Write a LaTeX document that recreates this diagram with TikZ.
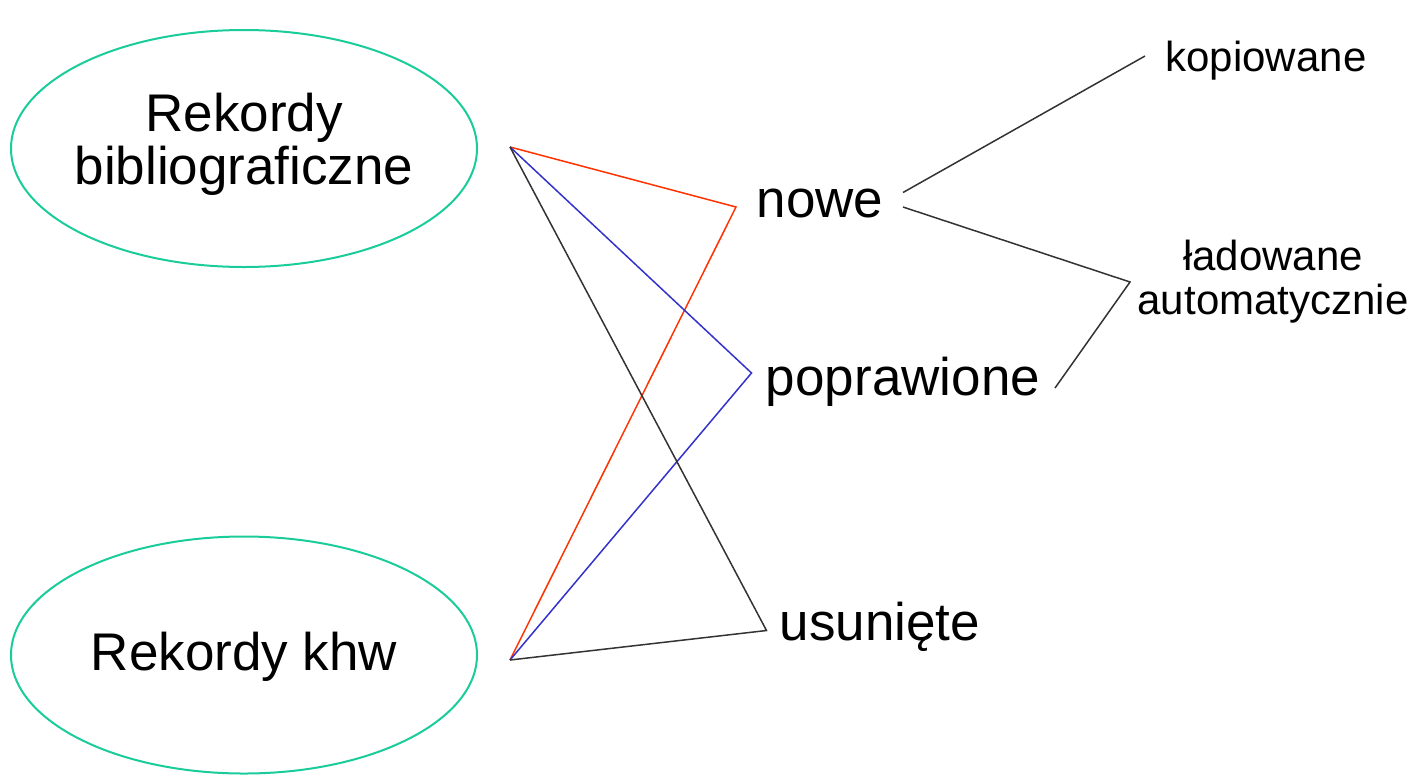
\documentclass[tikz,border=0pt]{standalone}
\usepackage{fontspec}
\setmainfont{Liberation Sans}
\usetikzlibrary{shapes.geometric}

\definecolor{recgreen}{RGB}{26,204,153}
\definecolor{linkred}{RGB}{255,51,0}
\definecolor{linkblue}{RGB}{51,51,204}
\definecolor{linkgray}{RGB}{51,51,51}

\begin{document}
\begin{tikzpicture}[
    x=0.5pt, y=-0.5pt,
    big_text/.style={font=\fontsize{26.5}{26.5}\selectfont},
    small_text/.style={font=\fontsize{21}{22}\selectfont},
    record_set/.style={draw=recgreen, line width=1pt, ellipse, minimum width=233pt, minimum height=118.5pt, inner sep=0pt},
    record_text/.style={big_text, align=center, inner sep=0pt},
    state_label/.style={big_text, anchor=base, inner sep=0pt},
    link/.style={line width=0.75pt, line join=miter}
]
\useasboundingbox (0,0) rectangle (1416,782);

% --- Record sets ---
\node[record_set] (biblio) at (244,148.5) {};
\node[record_text] (biblio_text) at (244,144.5) {Rekordy\\bibliograficzne};
\node[record_set] (khw) at (244,655) {};
\node[record_text] (khw_text) at (244,657) {Rekordy khw};
\coordinate (biblio_out) at (510,147);
\coordinate (khw_out) at (510,660);

% --- Record states ---
\node[state_label] (nowe) at (820,217) {nowe};
\node[state_label] (popr) at (903,395) {poprawione};
\node[state_label] (usun) at (880,640) {usunięte};
\coordinate (nowe_in) at (736,207);
\coordinate (popr_in) at (751.5,373);
\coordinate (usun_in) at (766.5,630.5);

% --- Handling of new records ---
\node[small_text, anchor=base] (kopi) at (1266,71) {kopiowane};
\node[small_text, align=center] (ladow) at (1273,282) {ładowane\\automatycznie};
\coordinate (nowe_up) at (903,192.5);
\coordinate (nowe_down) at (903,207);
\coordinate (kopi_end) at (1145,56);
\coordinate (ladow_in) at (1130,282);
\coordinate (popr_out) at (1055,388);

% --- Links ---
\draw[link, linkred] (biblio_out) -- (nowe_in) -- (khw_out);
\draw[link, linkblue] (biblio_out) -- (popr_in) -- (khw_out);
\draw[link, linkgray] (biblio_out) -- (usun_in) -- (khw_out);
\draw[link, linkgray] (nowe_up) -- (kopi_end);
\draw[link, linkgray] (nowe_down) -- (ladow_in) -- (popr_out);

\end{tikzpicture}
\end{document}
